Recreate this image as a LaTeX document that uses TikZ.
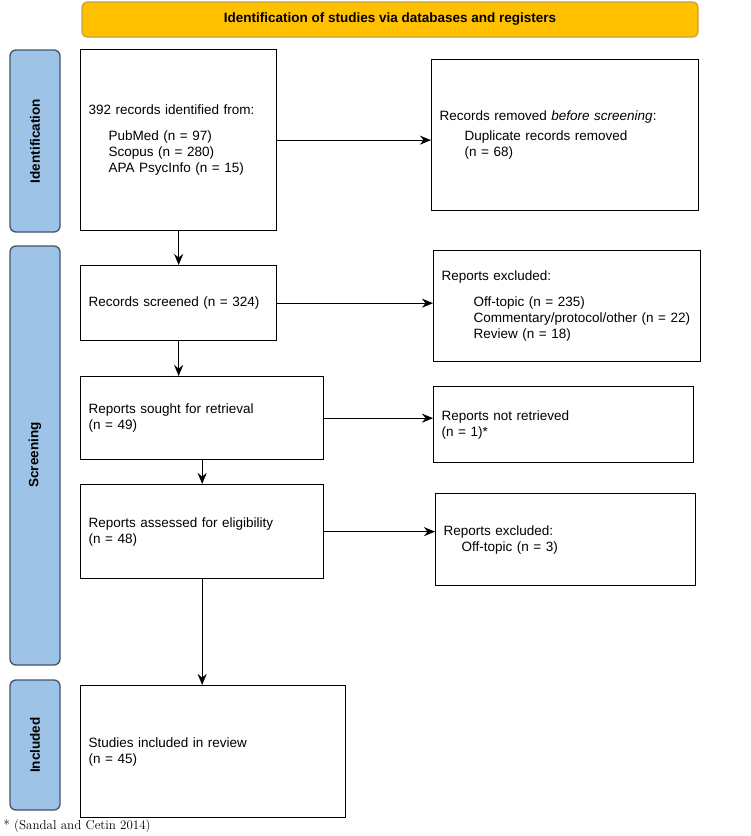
\documentclass[tikz,border=0pt]{standalone}
\usepackage{fontspec}
\setmainfont{Liberation Sans}
\usetikzlibrary{arrows.meta}
\definecolor{bannerfill}{HTML}{FFC000}
\definecolor{bannerline}{HTML}{C9A13A}
\definecolor{stagefill}{HTML}{9DC3E6}
\definecolor{stageline}{HTML}{41546A}
\tikzset{
  box/.style={draw, line width=1.3pt, inner sep=8pt, align=left, anchor=north west},
  stage/.style={draw=stageline, fill=stagefill, line width=1.3pt, rounded corners=6pt},
  flow/.style={-{Stealth[length=11pt,width=9pt]}, line width=1.3pt}
}
\begin{document}
\begin{tikzpicture}[x=1pt,y=-1pt,font=\fontsize{13.5}{16}\selectfont]
  \useasboundingbox (0,0) rectangle (751,836);
  % banner and stages
  \draw[draw=bannerline, fill=bannerfill, line width=1.3pt, rounded corners=5pt]
    (82,2) rectangle (698,37);
  \node (ban) at (390,19.5) {\bfseries Identification of studies via databases and registers};
  \draw[stage] (10,50) rectangle (60,232);
  \node (sid) [rotate=90] at (35,141) {\bfseries Identification};
  \draw[stage] (10,246) rectangle (60,665);
  \node (ssc) [rotate=90] at (35,455) {\bfseries Screening};
  \draw[stage] (10,680) rectangle (60,810);
  \node (sin) [rotate=90] at (35,745) {\bfseries Included};

  % boxes
  \node (rec) [box, minimum width=196pt, minimum height=181pt, text width=180pt] at (80,49)
    {392 records identified from:\\[10pt]
     \hspace*{20pt}PubMed (n = 97)\\
     \hspace*{20pt}Scopus (n = 280)\\
     \hspace*{20pt}APA PsycInfo (n = 15)};
  \node (dup) [box, minimum width=267pt, minimum height=151pt, text width=251pt] at (431,59)
    {Records removed \emph{before screening}:\\[4pt]
     \hspace*{25pt}Duplicate records removed\\
     \hspace*{25pt}(n = 68)};
  \node (scr) [box, minimum width=196pt, minimum height=75pt, text width=180pt] at (80,265)
    {Records screened (n = 324)};
  \node (exc) [box, minimum width=267pt, minimum height=111pt, text width=251pt] at (433,250)
    {Reports excluded:\\[10pt]
     \hspace*{32pt}Off-topic (n = 235)\\
     \hspace*{32pt}Commentary/protocol/other (n = 22)\\
     \hspace*{32pt}Review (n = 18)};
  \node (sou) [box, minimum width=243pt, minimum height=83pt, text width=227pt] at (80,376)
    {Reports sought for retrieval\\(n = 49)};
  \node (ret) [box, minimum width=260pt, minimum height=76pt, text width=244pt] at (433,386)
    {Reports not retrieved\\(n = 1)*};
  \node (ass) [box, minimum width=243pt, minimum height=94pt, text width=227pt] at (80,484)
    {Reports assessed for eligibility\\(n = 48)};
  \node (off) [box, minimum width=260pt, minimum height=92pt, text width=244pt] at (435,493)
    {Reports excluded:\\
     \hspace*{18pt}Off-topic (n = 3)};
  \node (inc) [box, minimum width=265pt, minimum height=132pt, text width=249pt] at (80,685)
    {Studies included in review\\(n = 45)};

  % arrows
  \draw[flow] (rec.south -| scr.north) -- (scr.north);
  \draw[flow] (rec.east) -- (rec.east -| dup.west);
  \draw[flow] (scr.east) -- (scr.east -| exc.west);
  \draw[flow] (scr.south) -- (scr.south |- sou.north);
  \draw[flow] (sou.east) -- (sou.east -| ret.west);
  \draw[flow] (sou.south) -- (ass.north);
  \draw[flow] (ass.east) -- (ass.east -| off.west);
  \draw[flow] (ass.south) -- (ass.south |- inc.north);

  % footnote
  \node (fn) [anchor=west, font=\fontfamily{lmr}\fontsize{13}{15}\selectfont] at (0,826)
    {* (Sandal and Cetin 2014)};
\end{tikzpicture}
\end{document}
